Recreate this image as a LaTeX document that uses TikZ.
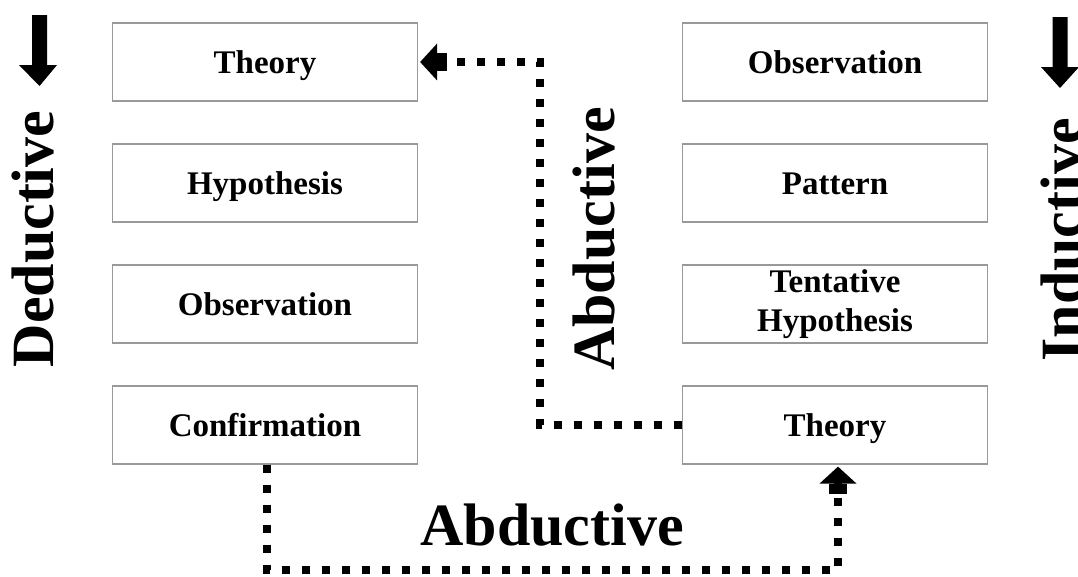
\documentclass[tikz,border=0pt]{standalone}
\usepackage{fontspec}
\setmainfont{Liberation Serif}
\usetikzlibrary{arrows.meta}
\tikzset{
  box/.style={draw=black!40, line width=1.2pt, minimum width=305pt, minimum height=78pt,
    font=\fontsize{33}{39}\selectfont\bfseries, align=center, inner sep=0pt},
  onebox/.style={box, text height=23pt, text depth=1pt},
  biglabel/.style={font=\fontsize{60}{60}\selectfont\bfseries, inner sep=0pt},
  dotline/.style={line width=8.3pt, dash pattern=on 8.3pt off 11.7pt},
  blockhead/.style={-{Rectangle[length=10pt,width=18pt,sep=0pt] Triangle[length=17pt,width=36pt,sep=0pt]}}
}
\begin{document}
\begin{tikzpicture}[x=1pt,y=-1pt]
\useasboundingbox (0,0) rectangle (1078,576);
% left column
\node[onebox] (L1) at (265,62) {Theory};
\node[onebox] (L2) at (265,183) {Hypothesis};
\node[onebox] (L3) at (265,304) {Observation};
\node[onebox] (L4) at (265,425) {Confirmation};
% right column
\node[onebox] (R1) at (835,62) {Observation};
\node[onebox] (R2) at (835,183) {Pattern};
\node[box] (R3) at (835,304) {Tentative\\Hypothesis};
\node[onebox] (R4) at (835,425) {Theory};
% labels
\node[biglabel, rotate=90, anchor=base] (ded) at (53,239) {Deductive};
\node[biglabel, rotate=90, anchor=base] (abm) at (614,239) {Abductive};
\node[biglabel, rotate=90, anchor=base] (ind) at (1082,240) {Inductive};
\node[biglabel, anchor=base] (abb) at (552,545) {Abductive};
% block arrows
\fill (32,15) -- (47,15) -- (47,65) -- (57,65) -- (39.5,86) -- (19,65) -- (32,65) -- cycle;
\fill (1052.5,17) -- (1067.5,17) -- (1067.5,67) -- (1079,67) -- (1060,88) -- (1041,67) -- (1052.5,67) -- cycle;
% connectors
\coordinate (mtop) at (540,62);
\coordinate (bbot) at (600,570);
\draw[dotline, blockhead, shorten >=2pt] (R4.west) -| (mtop) -- (L1.east);
\draw[dotline, blockhead, shorten >=2pt] ([xshift=2pt]L4.south) |- (bbot) -| ([xshift=3pt]R4.south);
\end{tikzpicture}
\end{document}
